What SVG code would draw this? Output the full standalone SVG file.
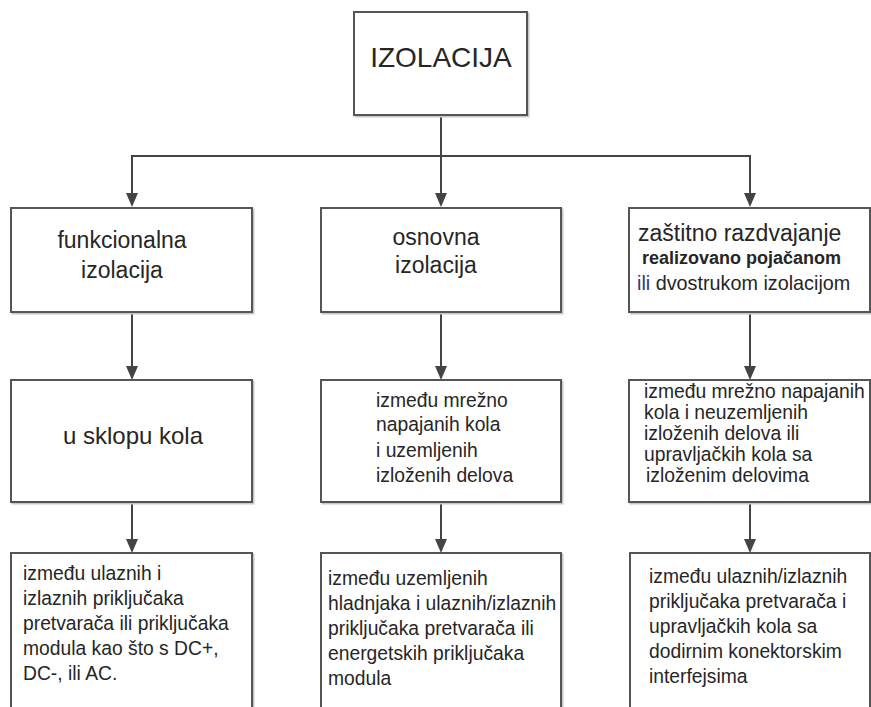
<svg xmlns="http://www.w3.org/2000/svg" width="871" height="707" viewBox="0 0 871 707">
<style>
.box{fill:#ffffff;stroke:#555555;stroke-width:2}
.sh{fill:none;stroke:#c8c8c8;stroke-width:2}
.t{font-family:"Liberation Sans",Arial,sans-serif;fill:#262626}
.c{text-anchor:middle}
.l2{font-size:23px}
.l3{font-size:19.3px}
.con{fill:none;stroke:#444444;stroke-width:2}
.ah{fill:#444444}
</style>
<rect x="0" y="0" width="871" height="707" fill="#ffffff"/>

<g id="connectors">
<line class="con" x1="441" y1="115" x2="441" y2="194"/>
<path class="ah" d="M435,193 L447,193 L441,207 Z"/>
<polyline class="con" points="132,194 132,156 750,156 750,194"/>
<path class="ah" d="M126,193 L138,193 L132,207 Z"/>
<path class="ah" d="M744,193 L756,193 L750,207 Z"/>

<line class="con" x1="132" y1="312" x2="132" y2="367"/>
<path class="ah" d="M126,366 L138,366 L132,380 Z"/>
<line class="con" x1="441" y1="312" x2="441" y2="367"/>
<path class="ah" d="M435,366 L447,366 L441,380 Z"/>
<line class="con" x1="750" y1="312" x2="750" y2="367"/>
<path class="ah" d="M744,366 L756,366 L750,380 Z"/>

<line class="con" x1="132" y1="502" x2="132" y2="540"/>
<path class="ah" d="M126,539 L138,539 L132,553 Z"/>
<line class="con" x1="441" y1="502" x2="441" y2="540"/>
<path class="ah" d="M435,539 L447,539 L441,553 Z"/>
<line class="con" x1="750" y1="502" x2="750" y2="540"/>
<path class="ah" d="M744,539 L756,539 L750,553 Z"/>
</g>

<g id="n-izolacija">
<rect class="sh" x="355.5" y="13.5" width="173" height="103"/>
<rect class="box" x="354" y="12" width="173" height="103"/>
<text class="t c" x="441" y="67" font-size="28">IZOLACIJA</text>
</g>

<g id="n-funkcionalna">
<rect class="sh" x="12.5" y="209.5" width="241" height="104"/>
<rect class="box" x="11" y="208" width="241" height="104"/>
<text class="t c l2" x="122" y="248">funkcionalna</text>
<text class="t c l2" x="122" y="278">izolacija</text>
</g>

<g id="n-osnovna">
<rect class="sh" x="322.5" y="209.5" width="240" height="104"/>
<rect class="box" x="321" y="208" width="240" height="104"/>
<text class="t c l2" x="436" y="245">osnovna</text>
<text class="t c l2" x="436" y="273">izolacija</text>
</g>

<g id="n-zastitno">
<rect class="sh" x="630.5" y="209.5" width="241" height="104"/>
<rect class="box" x="629" y="208" width="241" height="104"/>
<text class="t" x="638" y="241" font-size="23">zaštitno razdvajanje</text>
<text class="t" x="642" y="264" font-size="18" font-weight="bold" fill="#111">realizovano pojačanom</text>
<text class="t" x="637" y="290" font-size="19.8"><tspan fill="#3a2f8a">ili</tspan> dvostrukom izolacijom</text>
</g>

<g id="n-sklopu">
<rect class="sh" x="12.5" y="381.5" width="241" height="122"/>
<rect class="box" x="11" y="380" width="241" height="122"/>
<text class="t c" x="133" y="444" font-size="24">u sklopu kola</text>
</g>

<g id="n-mrezno">
<rect class="sh" x="322.5" y="381.5" width="240" height="122"/>
<rect class="box" x="321" y="380" width="240" height="122"/>
<text class="t l3" x="376" y="407">između mrežno</text>
<text class="t l3" x="376" y="431">napajanih kola</text>
<text class="t l3" x="376" y="457">i uzemljenih</text>
<text class="t l3" x="376" y="482">izloženih delova</text>
</g>

<g id="n-neuzemljenih">
<rect class="sh" x="630.5" y="381.5" width="241" height="122"/>
<rect class="box" x="629" y="380" width="241" height="122"/>
<text class="t l3" x="644" y="398">između mrežno napajanih</text>
<text class="t l3" x="644" y="419">kola i neuzemljenih</text>
<text class="t l3" x="644" y="440">izloženih delova ili</text>
<text class="t l3" x="644" y="461">upravljačkih kola sa</text>
<text class="t l3" x="646" y="482">izloženim delovima</text>
</g>

<g id="n-ulaznih">
<rect class="sh" x="12.5" y="554.5" width="241" height="170"/>
<rect class="box" x="11" y="553" width="241" height="170"/>
<text class="t l3" x="23" y="580">između ulaznih i</text>
<text class="t l3" x="23" y="605">izlaznih priključaka</text>
<text class="t l3" x="23" y="630">pretvarača ili priključaka</text>
<text class="t l3" x="23" y="655">modula kao što s DC+,</text>
<text class="t l3" x="23" y="680">DC-, ili AC.</text>
</g>

<g id="n-hladnjaka">
<rect class="sh" x="322.5" y="554.5" width="240" height="170"/>
<rect class="box" x="321" y="553" width="240" height="170"/>
<text class="t l3" x="328" y="585">između uzemljenih</text>
<text class="t l3" x="328" y="610">hladnjaka i ulaznih/izlaznih</text>
<text class="t l3" x="328" y="635">priključaka pretvarača ili</text>
<text class="t l3" x="328" y="660">energetskih priključaka</text>
<text class="t l3" x="328" y="685">modula</text>
</g>

<g id="n-interfejsima">
<rect class="sh" x="631.5" y="554.5" width="240" height="170"/>
<rect class="box" x="630" y="553" width="240" height="170"/>
<text class="t l3" x="649" y="583">između ulaznih/izlaznih</text>
<text class="t l3" x="649" y="608">priključaka pretvarača i</text>
<text class="t l3" x="649" y="633">upravljačkih kola sa</text>
<text class="t l3" x="649" y="658">dodirnim konektorskim</text>
<text class="t l3" x="649" y="683">interfejsima</text>
</g>
</svg>
